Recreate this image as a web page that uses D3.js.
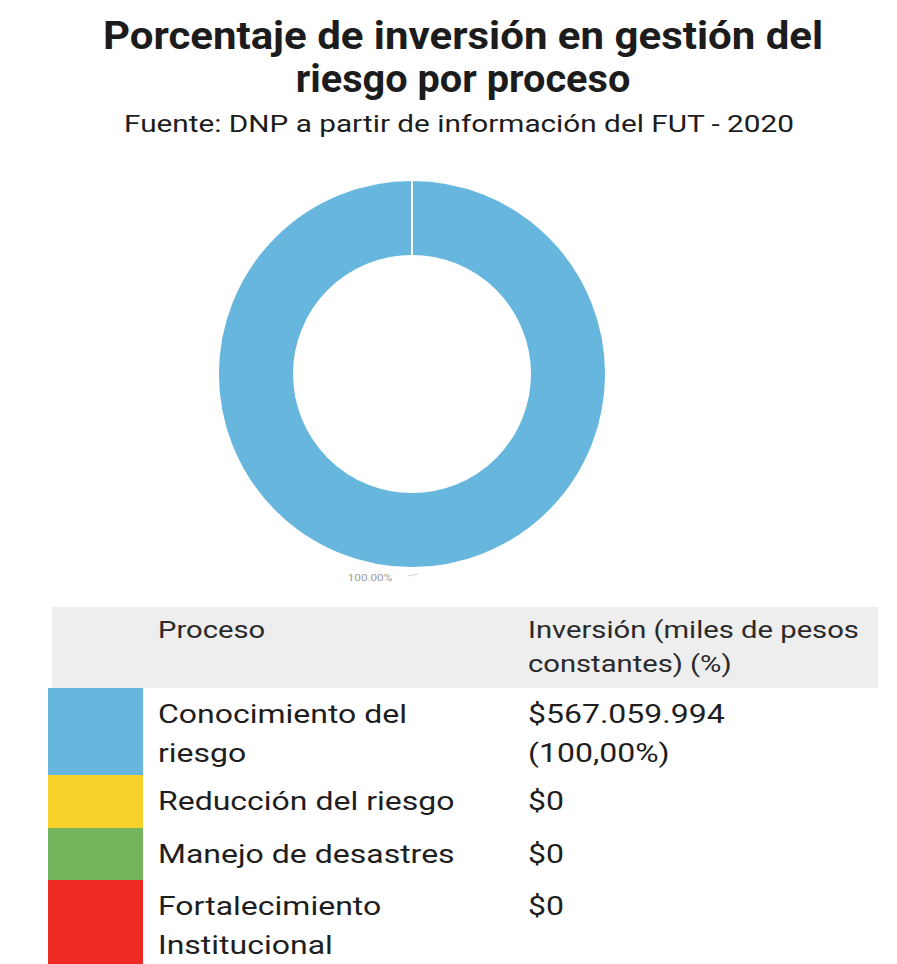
<!DOCTYPE html>
<html><head><meta charset="utf-8">
<script src="https://cdn.jsdelivr.net/npm/d3@7"></script>
<style>
body{margin:0;background:#fff;}
svg{display:block;font-family:Roboto,"Noto Sans",sans-serif;}
</style></head>
<body>
<svg id="c" width="897" height="964"></svg>
<script>
const titleLines = ["Porcentaje de inversión en gestión del", "riesgo por proceso"];
const subtitle = "Fuente: DNP a partir de información del FUT - 2020";
const categories = ["Conocimiento del riesgo", "Reducción del riesgo", "Manejo de desastres", "Fortalecimiento Institucional"];
const categoryLines = [["Conocimiento del", "riesgo"], ["Reducción del riesgo"], ["Manejo de desastres"], ["Fortalecimiento", "Institucional"]];
const values = [567059994, 0, 0, 0];
const valueLines = [["$567.059.994", "(100,00%)"], ["$0"], ["$0"], ["$0"]];
const colors = ["#66b6de", "#f6d22a", "#74b45c", "#ee2a24"];
const headers = [["Proceso"], ["Inversión (miles de pesos", "constantes) (%)"]];

const svg = d3.select("#c");

// text drawn with a horizontal stretch, anchored at (x, y)
function label(parent, str, x, y, size, k, opts = {}) {
  return parent.append("text")
    .attr("transform", `translate(${x},${y}) scale(${k},1)`)
    .attr("font-size", size)
    .attr("fill", opts.fill || "#1e1e1e")
    .attr("font-weight", opts.weight || "normal")
    .attr("text-anchor", opts.anchor || "start")
    .text(str);
}

// Title
const titleStretch = [1.105, 1.045];
titleLines.forEach((s, i) => label(svg, s, 463, 49 + i * 43, 38, titleStretch[i], {weight: "bold", anchor: "middle", fill: "#1c1c1c"}));
label(svg, subtitle, 459, 132, 24, 1.24, {anchor: "middle", fill: "#1c1c1c"});

// Donut
const cx = 412, cy = 374, R = 194, r = 118;
const total = d3.sum(values);
const pie = d3.pie().sort(null).value(d => d)(values);
const arc = d3.arc().innerRadius(r).outerRadius(R);
const g = svg.append("g").attr("transform", `translate(${cx},${cy})`);
g.selectAll("path").data(pie).join("path")
  .attr("d", arc).attr("fill", (d, i) => colors[i])
  .attr("stroke", "#fff").attr("stroke-width", 2);
const fmt = v => (v / total * 100).toFixed(2) + "%";
label(g, fmt(values[0]), -42, 207, 9, 1.3, {anchor: "middle", fill: "#9a9a9a"});
g.append("line").attr("x1", -4).attr("x2", 6).attr("y1", 202).attr("y2", 200)
  .attr("stroke", "#cfcfcf").attr("stroke-width", 1);

// Table
const tx = 48, swW = 95, colX = [158, 528], right = 878;
svg.append("rect").attr("x", 52).attr("y", 607).attr("width", right - 52).attr("height", 81).attr("fill", "#eeeeee");
headers.forEach((h, j) => {
  h.forEach((s, i) => label(svg, s, colX[j], 638 + i * 34, 23, 1.27, {fill: "#2a2a2a"}));
});
const rowTops = [688, 775, 828, 880];
const rowH = [87, 53, 52, 84];
const y = d3.scaleOrdinal().domain(categories).range(rowTops);
categories.forEach((c, k) => {
  const top = y(c);
  svg.append("rect").attr("x", tx).attr("y", top).attr("width", swW).attr("height", rowH[k]).attr("fill", colors[k]);
  categoryLines[k].forEach((s, i) => label(svg, s, colX[0], top + 35 + i * 39, 25, 1.28));
  valueLines[k].forEach((s, i) => label(svg, s, colX[1], top + 35 + i * 39, 25, 1.28));
});
</script>
</body></html>
